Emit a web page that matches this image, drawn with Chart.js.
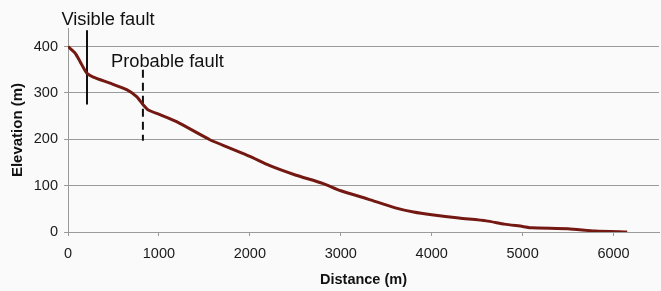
<!DOCTYPE html>
<html>
<head>
<meta charset="utf-8">
<script src="https://cdn.jsdelivr.net/npm/chart.js@4"></script>
<style>
html,body{margin:0;padding:0;background:#fafafa;}
#wrap{width:661px;height:291px;}
</style>
</head>
<body>
<div id="wrap"><canvas id="c" width="661" height="291"></canvas></div>
<script>
// Profile data
const distance  = [0, 77, 132, 205, 278, 462, 645, 755, 828, 883, 1011, 1194, 1560, 1780, 2000, 2220, 2500, 2800, 3000, 3300, 3600, 3800, 4000, 4300, 4600, 4800, 5000, 5100, 5500, 5800, 6150];
const elevation = [400, 386, 368, 343, 334, 321, 307, 292, 274, 263, 253, 238, 199, 181, 163, 143, 123, 105, 89, 71, 52, 43, 37, 30, 24, 17, 12, 9, 7, 2, 0];
const xTicks = [0, 1000, 2000, 3000, 4000, 5000, 6000];
const yTicks = [0, 100, 200, 300, 400];
// Fault markers
const visibleFaultX = [209, 209];
const visibleFaultY = [435, 275];
const probableFaultX = [824, 824];
const probableFaultY = [350, 197];
const annotations = [
  {text: 'Visible fault', x: 440, y: 458},
  {text: 'Probable fault', x: 1093, y: 367}
];

const toXY = (xs, ys) => xs.map((x, i) => ({x: x, y: ys[i]}));

const labelPlugin = {
  id: 'labels',
  afterDraw(chart) {
    const {ctx, scales: {x, y}} = chart;
    ctx.save();
    ctx.fillStyle = '#111';
    ctx.font = '18.3px "Liberation Sans", Arial, sans-serif';
    ctx.textAlign = 'center';
    ctx.textBaseline = 'middle';
    annotations.forEach(a => {
      ctx.fillText(a.text, x.getPixelForValue(a.x), y.getPixelForValue(a.y));
    });
    ctx.restore();
  }
};

Chart.defaults.font.family = '"Liberation Sans", Arial, sans-serif';
Chart.defaults.color = '#1a1a1a';

new Chart(document.getElementById('c'), {
  type: 'scatter',
  data: {
    datasets: [
      {
        data: toXY(distance, elevation),
        showLine: true,
        borderColor: '#741812',
        borderWidth: 3,
        pointRadius: 0,
        tension: 0.2
      },
      {
        data: toXY(visibleFaultX, visibleFaultY),
        showLine: true,
        borderColor: '#111',
        borderWidth: 2,
        pointRadius: 0
      },
      {
        data: toXY(probableFaultX, probableFaultY),
        showLine: true,
        borderColor: '#111',
        borderWidth: 2,
        borderDash: [8, 5],
        pointRadius: 0
      }
    ]
  },
  options: {
    responsive: false,
    animation: false,
    layout: {padding: {left: 0, right: 2, top: 28, bottom: 0}},
    plugins: {legend: {display: false}, tooltip: {enabled: false}},
    scales: {
      x: {
        type: 'linear',
        min: 0, max: 6500,
        afterBuildTicks: s => { s.ticks = xTicks.map(v => ({value: v})); },
        afterFit: s => { s.height = 59; },
        grid: {drawOnChartArea: false, drawTicks: true, tickLength: 4, color: '#9a9a9a'},
        border: {display: true, color: '#9a9a9a', width: 1},
        ticks: {font: {size: 14.5}, padding: 9, maxRotation: 0, color: '#1a1a1a', callback: v => String(v)},
        title: {display: true, text: 'Distance (m)', font: {size: 14.5, weight: 'bold'}, color: '#111', padding: {top: 0, bottom: 2}}
      },
      y: {
        type: 'linear',
        min: 0, max: 440,
        afterBuildTicks: s => { s.ticks = yTicks.map(v => ({value: v})); },
        afterFit: s => { s.width = 68; },
        grid: {drawTicks: true, tickLength: 4, color: '#9a9a9a'},
        border: {display: true, color: '#9a9a9a', width: 1},
        ticks: {font: {size: 14.5}, padding: 6, color: '#1a1a1a', callback: v => String(v)},
        title: {display: true, text: 'Elevation (m)', font: {size: 15, weight: 'bold'}, color: '#111', padding: {top: 9, bottom: 0}}
      }
    }
  },
  plugins: [labelPlugin]
});
</script>
</body>
</html>
